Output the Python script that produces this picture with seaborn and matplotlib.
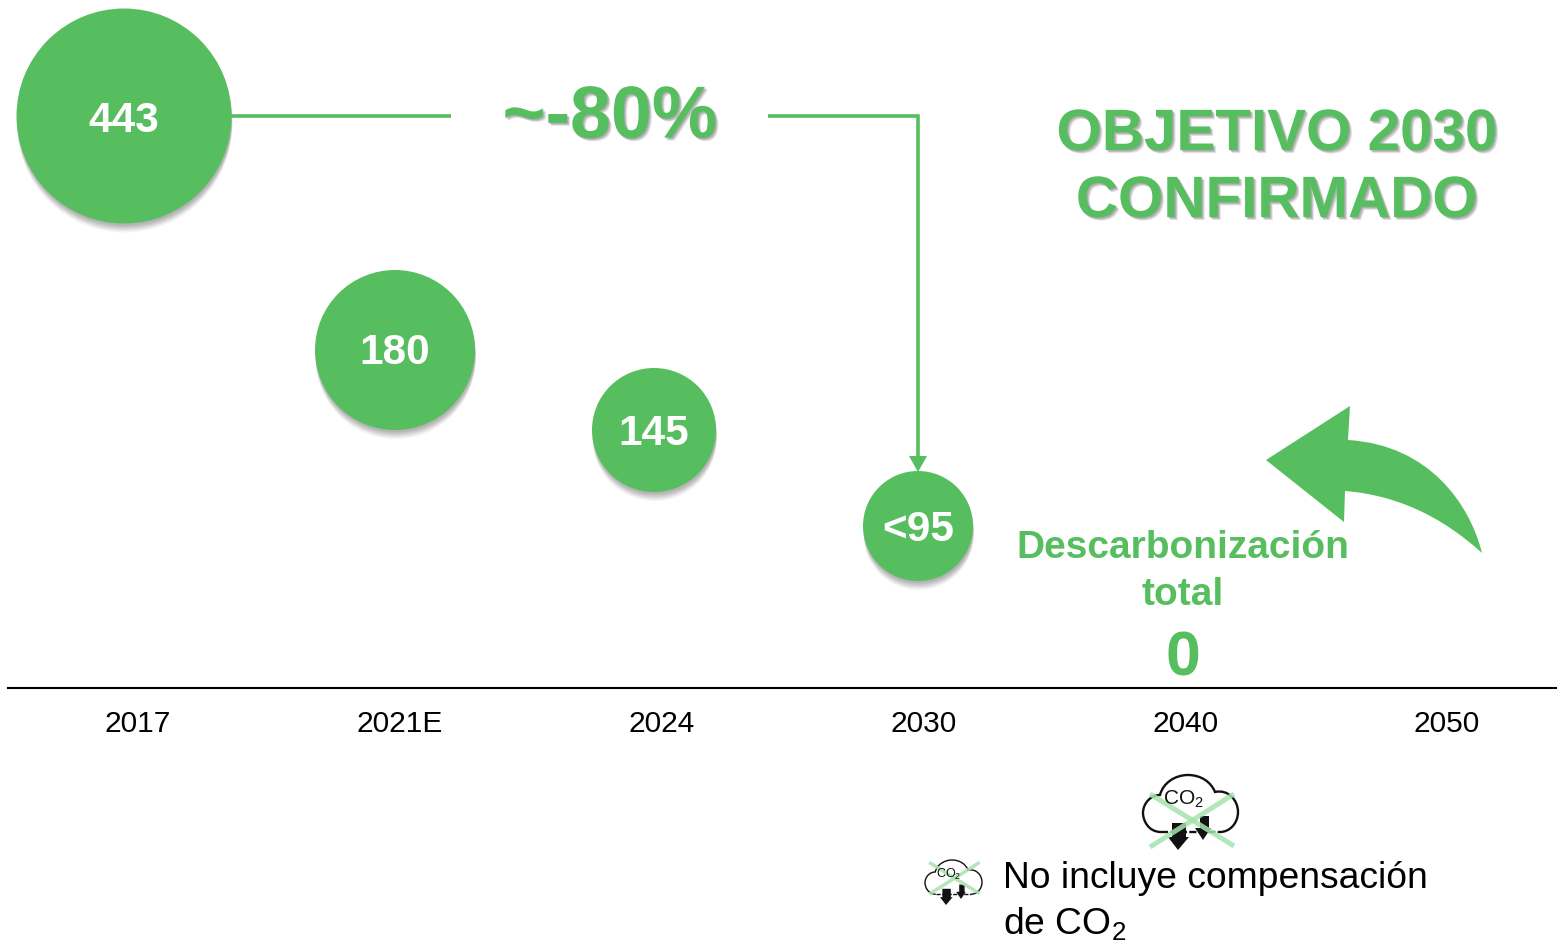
import matplotlib
matplotlib.use("Agg")
import matplotlib.pyplot as plt
import matplotlib.patheffects as pe
from matplotlib.path import Path
from matplotlib.patches import PathPatch, Polygon
import pandas as pd
import seaborn as sns

# ---- data ----
years = ["2017", "2021E", "2024", "2030", "2040", "2050"]
bubble_labels = ["443", "180", "145", "<95"]
bubble_years = ["2017", "2021E", "2024", "2030"]
target_label = "0"
reduction_label = "~-80%"
headline = ["OBJETIVO 2030", "CONFIRMADO"]
target_caption = ["Descarbonización", "total"]
note_lines = ["No incluye compensación", "de CO$_2$"]

# ---- layout (pixels of the 1557x943 picture) ----
W, H = 1557, 943
BASE_Y = 688
AX_LEFT = 8
TICK0, TICK_STEP = 138.0, 261.8
bubble_cx = [124, 395, 654, 918]
bubble_cy = [116, 350, 430, 526]
bubble_r = [107.5, 80, 62, 55]
label_dy = [5, 3, 4, 4]
GREEN = "#56BE5E"
FONT = "Liberation Sans"

sns.set_theme(style="white")
plt.rcParams["font.family"] = [FONT, "DejaVu Sans"]
plt.rcParams["mathtext.fontset"] = "custom"
plt.rcParams["mathtext.rm"] = FONT
plt.rcParams["mathtext.default"] = "regular"

fig = plt.figure(figsize=(W / 100, H / 100), dpi=100, facecolor="white")
ax = fig.add_axes([AX_LEFT / W, (H - BASE_Y) / H, (W - AX_LEFT) / W, BASE_Y / H])
ax.set_xlim((AX_LEFT - TICK0) / TICK_STEP, (W - TICK0) / TICK_STEP)
ax.set_ylim(0, BASE_Y)

df = pd.DataFrame({
    "label": bubble_labels,
    "x": [(c - TICK0) / TICK_STEP for c in bubble_cx],
    "y": [BASE_Y - c for c in bubble_cy],
})
sizes = {l: (2 * r * 0.72) ** 2 for l, r in zip(bubble_labels, bubble_r)}
bubble_shadow = [pe.SimplePatchShadow(offset=(0.5, -d), shadow_rgbFace="#444444", alpha=a)
                 for d, a in ((6.5, 0.05), (5.5, 0.07), (4.5, 0.08), (3.5, 0.09), (2.5, 0.09), (1.5, 0.09))] + [pe.Normal()]
sns.scatterplot(data=df, x="x", y="y", size="label", sizes=sizes, color=GREEN,
                linewidth=0, legend=False, ax=ax, clip_on=False,
                path_effects=bubble_shadow, zorder=3)

ax.set_xticks(range(len(years)), years)
ax.set_xlabel("")
ax.set_ylabel("")
ax.set_yticks([])
ax.tick_params(axis="x", length=0, pad=15.7, labelsize=21.5, labelcolor="black")
for s in ("top", "left", "right"):
    ax.spines[s].set_visible(False)
ax.spines["bottom"].set_color("black")
ax.spines["bottom"].set_linewidth(1.5)
ax.patch.set_alpha(0)

# ---- overlay in picture pixels ----
ov = fig.add_axes([0, 0, 1, 1])
ov.set_xlim(0, W)
ov.set_ylim(H, 0)
ov.axis("off")
ov.patch.set_alpha(0)

text_shadow = [pe.SimplePatchShadow(offset=(2.2, -2.2), shadow_rgbFace="#777777", alpha=0.2),
               pe.SimplePatchShadow(offset=(1.5, -1.5), shadow_rgbFace="#777777", alpha=0.3),
               pe.SimplePatchShadow(offset=(0.8, -0.8), shadow_rgbFace="#777777", alpha=0.3),
               pe.Normal()]

for label, cx, cy, dy in zip(bubble_labels, bubble_cx, bubble_cy, label_dy):
    ov.text(cx, cy + dy, label, color="white", fontsize=30.5, fontweight="bold",
            ha="center", va="center")

# connector
ov.plot([231, 451], [115.5, 115.5], color=GREEN, lw=2.6, solid_capstyle="butt")
ov.plot([768, 918, 918], [115.5, 115.5, 458], color=GREEN, lw=2.6,
        solid_capstyle="butt", solid_joinstyle="miter")
ov.add_patch(Polygon([(909, 456), (927, 456), (918, 472)], closed=True, fc=GREEN, ec="none"))

ov.text(610, 118, reduction_label, color=GREEN, fontsize=53, fontweight="bold",
        ha="center", va="center", path_effects=text_shadow)
for t, y in zip(headline, [135, 202]):
    ov.text(1277, y, t, color=GREEN, fontsize=42, fontweight="bold",
            ha="center", va="center", path_effects=text_shadow)
for t, y in zip(target_caption, [548, 595]):
    ov.text(1183, y, t, color=GREEN, fontsize=28, fontweight="bold", ha="center", va="center")
ov.text(1183, 659, target_label, color=GREEN, fontsize=45, fontweight="bold", ha="center", va="center")

# curved arrow
verts = [(1266, 460), (1350, 406), (1348, 440),
         (1430, 445), (1470, 505), (1482, 553),
         (1440, 515), (1395, 495), (1345, 491),
         (1344, 522), (1266, 460)]
codes = [Path.MOVETO, Path.LINETO, Path.LINETO,
         Path.CURVE4, Path.CURVE4, Path.CURVE4,
         Path.CURVE4, Path.CURVE4, Path.CURVE4,
         Path.LINETO, Path.CLOSEPOLY]
ov.add_patch(PathPatch(Path(verts, codes), fc=GREEN, ec="none"))


def co2_icon(ox, oy, k, fs, lw, xw, xdy):
    def P(x, y):
        return (ox + k * x, oy + k * y)
    pts = [(18, 57), (5, 57), (0, 45), (0, 38), (0, 28), (8, 20), (17, 20),
           (20, 8), (32, 0), (45, 0), (58, 0), (68, 7), (72, 17),
           (85, 14), (95, 25), (95, 37), (95, 48), (87, 57), (77, 57)]
    cds = [Path.MOVETO] + [Path.CURVE4] * 18
    ov.add_patch(PathPatch(Path([P(*p) for p in pts], cds), fc="none", ec="#111111", lw=lw))
    ov.plot(*zip(P(18, 57), P(77, 57)), color="#111111", lw=lw, ls=(0, (3, 1)))
    for a in ([(29, 48), (43, 48), (43, 62), (46, 62), (35, 75), (25, 62), (29, 62)],
              [(57, 41), (66, 41), (66, 53), (68, 53), (60, 65), (52, 53), (57, 53)]):
        ov.add_patch(Polygon([P(*p) for p in a], closed=True, fc="#111111", ec="none"))
    ov.text(*P(40, 24), "CO$_2$", fontsize=fs, color="#111111", ha="center", va="center")
    for a, b in (((7, 19), (91, 71)), ((91, 19), (7, 72))):
        pa, pb = P(*a), P(*b)
        ov.plot([pa[0], pb[0]], [pa[1] + xdy, pb[1] + xdy], color="#A6E2AC", lw=xw,
                alpha=0.85, solid_capstyle="butt")


co2_icon(1143, 775, 1.0, 15, 1.7, 3.6, 0)
co2_icon(925, 860, 0.6, 9, 1.0, 2.5, -9)

ov.text(1003, 879, note_lines[0], color="black", fontsize=26.8, ha="left", va="center")
ov.text(1003, 924, note_lines[1], color="black", fontsize=26.8, ha="left", va="center")

fig.savefig("out.png", dpi=100, facecolor="white")
